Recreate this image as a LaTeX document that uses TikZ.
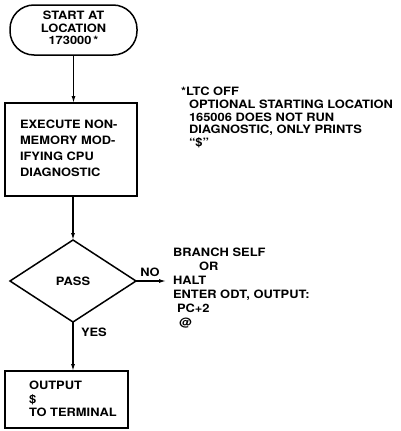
\documentclass[tikz,border=0pt]{standalone}
\usepackage{fontspec}
\setmainfont{TeX Gyre Heros}[FakeStretch=1.12]
\usetikzlibrary{shapes.geometric,arrows.meta}
\begin{document}
\begin{tikzpicture}[x=1pt,y=-1pt,
  font=\bfseries\fontsize{11.5}{12}\selectfont,
  every node/.style={inner sep=0pt, outer sep=0pt},
  boxline/.style={draw, line width=1.8pt},
  txt/.style={align=left, anchor=north west},
  arr/.style={line width=1.2pt, -{Latex[length=7pt,width=4pt]}}]
\useasboundingbox (0,0) rectangle (400,431);
% start terminal
\node[draw, line width=1.5pt, rounded corners=24pt, minimum width=127pt, minimum height=50pt] (start) at (73.5,30) {};
\node[align=center, anchor=north, font=\bfseries\fontsize{11.5}{12.5}\selectfont] (starttxt) at (73.5,11) {START AT\\LOCATION\\173000\,*};
% execute box
\node[boxline, minimum width=132pt, minimum height=93pt] (exec) at (71,149.5) {};
\node[txt, font=\bfseries\fontsize{11.5}{16}\selectfont] (exectxt) at (20,120) {EXECUTE NON-\\MEMORY MOD-\\IFYING CPU\\DIAGNOSTIC};
% decision
\node[draw, diamond, line width=1.5pt, minimum width=126pt, minimum height=82pt] (pass) at (73,281) {PASS};
% output box
\node[boxline, minimum width=123pt, minimum height=57pt] (out) at (66.5,399.5) {};
\node[txt, font=\bfseries\fontsize{11.5}{13.5}\selectfont] (outtxt) at (29,381) {OUTPUT\\\$\\TO TERMINAL};
% notes
\node[txt] (ltc) at (181,87) {*LTC OFF};
\node[txt, font=\bfseries\fontsize{11.5}{12.5}\selectfont] (opt) at (189,100) {OPTIONAL STARTING LOCATION\\165006 DOES NOT RUN\\DIAGNOSTIC, ONLY PRINTS\\``\$''};
\node[txt, font=\bfseries\fontsize{11.5}{14}\selectfont] (branch) at (173,248) {BRANCH SELF\\\hspace{26pt}OR\\HALT\\ENTER ODT, OUTPUT:\\\hspace{4pt}PC+2\\\hspace{6pt}@};
% labels
\node[anchor=base] (no) at (150,276) {NO};
\node[anchor=base west] (yes) at (81,336) {YES};
% connectors
\coordinate (noend) at (166,281);
\draw[arr] (start.south) -- (start.south |- exec.north);
\draw[arr] (pass.north |- exec.south) -- (pass.north);
\draw[arr] (pass.east) -- (noend);
\draw[arr] (pass.south) -- (pass.south |- out.north);
\end{tikzpicture}
\end{document}
